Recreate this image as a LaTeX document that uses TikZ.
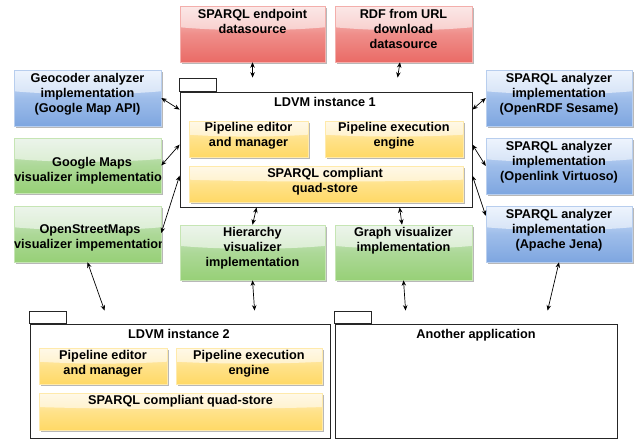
\documentclass[tikz,border=0pt]{standalone}
\usepackage{fontspec}
\setmainfont{Liberation Sans}
\usetikzlibrary{calc,shadows,arrows.meta}

\definecolor{redTop}{HTML}{F8CECC}
\definecolor{redBot}{HTML}{EA6B66}
\definecolor{blueTop}{HTML}{DAE8FC}
\definecolor{blueBot}{HTML}{7EA6E0}
\definecolor{greenTop}{HTML}{D5E8D4}
\definecolor{greenBot}{HTML}{97D077}
\definecolor{yelTop}{HTML}{FFF2CC}
\definecolor{yelBot}{HTML}{FFD966}

\tikzset{
  glass/.style={path picture={
    \fill[white,opacity=0.55] let \p1=(path picture bounding box.north west),
       \p2=(path picture bounding box.south east) in
      (\x1,\y1) -- (\x1,{\y1+0.38*(\y2-(\y1))})
      .. controls ({\x1+0.3*(\x2-(\x1))},{\y1+0.45*(\y2-(\y1))}) and ({\x1+0.7*(\x2-(\x1))},{\y1+0.45*(\y2-(\y1))}) .. (\x2,{\y1+0.38*(\y2-(\y1))})
      -- (\x2,\y1) -- cycle;}},
  card/.style n args={4}{rectangle, inner sep=0pt, minimum width=#1, minimum height=#2,
     top color=#3, bottom color=#4, middle color=#4!65!#3, draw=#4!55!white, line width=0.5pt, glass,
     drop shadow={shadow xshift=1.8pt, shadow yshift=-1.8pt, opacity=0.28, fill=black}},
  redcard/.style 2 args={card={#1}{#2}{redTop}{redBot}},
  bluecard/.style 2 args={card={#1}{#2}{blueTop}{blueBot}},
  greencard/.style 2 args={card={#1}{#2}{greenTop}{greenBot}},
  yelcard/.style 2 args={card={#1}{#2}{yelTop}{yelBot}},
  % anchored at the baseline of the last line
  lbl/.style={anchor=base, align=center, inner sep=0pt,
     font=\fontsize{12.7}{15}\selectfont\bfseries},
  pkg/.style={rectangle, inner sep=0pt, draw=black!85, line width=0.8pt, fill=white},
  pkgtab/.style={draw=black!85, line width=0.8pt, fill=white},
  biarrow/.style={{Stealth[length=5.5pt,width=4.5pt]}-{Stealth[length=5.5pt,width=4.5pt]},
     line width=0.7pt, black},
}

\begin{document}
\begin{tikzpicture}[x=1pt, y=-1pt]
\useasboundingbox (0,0) rectangle (640,439);

% ---------- packages ----------
\node[pkg, minimum width=292pt, minimum height=115pt] (ldvm1) at (326,149.5) {};
\draw[pkgtab] (ldvm1.north west) rectangle ++(37,-13);
\node[lbl] (ldvm1t) at (325,106) {LDVM instance 1};

\node[pkg, minimum width=300pt, minimum height=114pt] (ldvm2) at (180,381) {};
\draw[pkgtab] (ldvm2.north west) rectangle ++(37,-12);
\node[lbl] (ldvm2t) at (179,338) {LDVM instance 2};

\node[pkg, minimum width=282pt, minimum height=114pt] (app) at (476,381) {};
\draw[pkgtab] (app.north west) rectangle ++(37,-12);
\node[lbl] (appt) at (476,338) {Another application};

% ---------- data sources ----------
\node[redcard={145pt}{56pt}] (red1) at (252.5,34) {};
\node[lbl] (red1t) at (252.5,33) {SPARQL endpoint\\datasource};
\node[redcard={137pt}{56pt}] (red2) at (403.5,34) {};
\node[lbl] (red2t) at (403.5,48) {RDF from URL\\download\\datasource};

% ---------- left column ----------
\node[bluecard={147pt}{56pt}] (geo) at (87.5,98) {};
\node[lbl] (geot) at (87.5,112) {Geocoder analyzer\\implementation\\(Google Map API)};

\node[greencard={147pt}{55pt}] (gmaps) at (87.5,165.5) {};
\begin{scope}
  \clip (gmaps.north west) rectangle (gmaps.south east);
  \node[lbl] (gmapst) at (92,181) {Google Maps\\visualizer implementation};
\end{scope}

\node[greencard={147pt}{56pt}] (osm) at (87.5,234) {};
\begin{scope}
  \clip (osm.north west) rectangle (osm.south east);
  \node[lbl] (osmt) at (90,248) {OpenStreetMaps\\visualizer impementation};
\end{scope}

% ---------- right column ----------
\node[bluecard={146pt}{56pt}] (rdf) at (559,98) {};
\node[lbl] (rdft) at (559,112) {SPARQL analyzer\\implementation\\(OpenRDF Sesame)};
\node[bluecard={146pt}{56pt}] (virt) at (559,166) {};
\node[lbl] (virtt) at (559,180) {SPARQL analyzer\\implementation\\(Openlink Virtuoso)};
\node[bluecard={146pt}{56pt}] (jena) at (559,234) {};
\node[lbl] (jenat) at (559,248) {SPARQL analyzer\\implementation\\(Apache Jena)};

% ---------- visualizers below instance 1 ----------
\node[greencard={145pt}{55pt}] (hier) at (252.5,252.5) {};
\node[lbl] (hiert) at (252.5,266) {Hierarchy\\visualizer\\implementation};
\node[greencard={137pt}{55pt}] (graph) at (403.5,252.5) {};
\node[lbl] (grapht) at (403.5,251) {Graph visualizer\\implementation};

% ---------- components of instance 1 ----------
\node[yelcard={119pt}{36pt}] (ed1) at (248.5,139) {};
\node[lbl] (ed1t) at (248.5,146) {Pipeline editor\\and manager};
\node[yelcard={138pt}{36pt}] (ex1) at (394,139) {};
\node[lbl] (ex1t) at (394,146) {Pipeline execution\\engine};
\node[yelcard={274pt}{36pt}] (qs1) at (326,184) {};
\node[lbl] (qs1t) at (325,192) {SPARQL compliant\\quad-store};

% ---------- components of instance 2 ----------
\node[yelcard={128pt}{36pt}] (ed2) at (103,366) {};
\node[lbl] (ed2t) at (103,374) {Pipeline editor\\and manager};
\node[yelcard={146pt}{36pt}] (ex2) at (249,366) {};
\node[lbl] (ex2t) at (249,374) {Pipeline execution\\engine};
\node[yelcard={283pt}{37pt}] (qs2) at (180.5,411.5) {};
\node[lbl] (qs2t) at (180.5,404) {SPARQL compliant quad-store};

% ---------- connectors ----------
\draw[biarrow] (red1.south) -- ($(ldvm1.north west)+(73,-14)$);
\draw[biarrow] ($(red2.south)+(-3.5,0)$) -- ($(ldvm1.north west)+(218,-14)$);
\draw[biarrow] (geo.east) -- ($(ldvm1.north west)+(0,18)$);
\draw[biarrow] (gmaps.east) -- ($(ldvm1.north west)+(0,53)$);
\draw[biarrow] ($(osm.east)+(0,-1)$) -- ($(ldvm1.north west)+(0,84)$);
\draw[biarrow] ($(ldvm1.north east)+(0,18)$) -- (rdf.west);
\draw[biarrow] ($(ldvm1.north east)+(0,53)$) -- (virt.west);
\draw[biarrow] ($(ldvm1.north east)+(0,84)$) -- ($(jena.north west)+(0,10)$);
\draw[biarrow] ($(ldvm1.south west)+(77,0)$) -- (hier.north);
\draw[biarrow] ($(ldvm1.south west)+(220,0)$) -- ($(graph.north)+(-1.5,0)$);
\draw[biarrow] (osm.south) -- ($(ldvm2.north west)+(75,-13)$);
\draw[biarrow] (hier.south) -- ($(ldvm2.north west)+(225,-13)$);
\draw[biarrow] (graph.south) -- ($(app.north west)+(71,-13)$);
\draw[biarrow] (jena.south) -- ($(app.north west)+(213,-13)$);
\end{tikzpicture}
\end{document}
